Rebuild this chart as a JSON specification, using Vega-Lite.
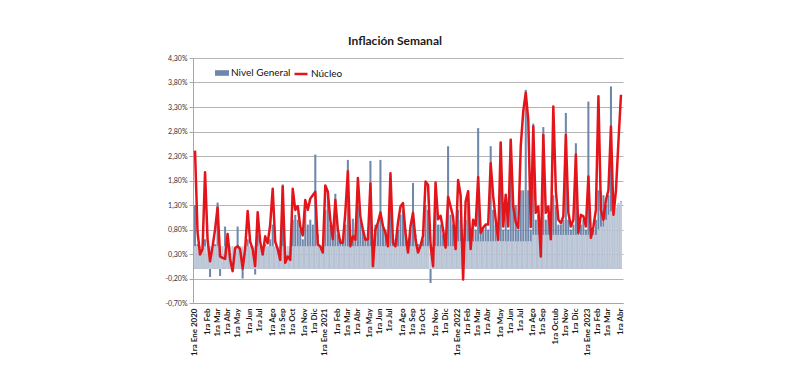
{
"$schema": "https://vega.github.io/schema/vega-lite/v6.json",
"width": 430, "height": 245,
"autosize": {"type": "none"},
"padding": {"left": 193, "top": 58, "right": 177, "bottom": 72},
"background": "white",
"config": {"font": "Lato", "view": {"stroke": null}},
"title": {"text": "Inflación Semanal", "font": "Lato", "fontSize": 12, "fontWeight": "bold", "color": "#1a1a1a", "offset": 6, "dx": -13},
"data": {"values": [
{"w":"1ra Ene 2020","g":1.30,"n":2.41,"b":0.46},
{"w":"2da Ene 2020","g":0.50,"n":0.75,"b":0.46},
{"w":"3ra Ene 2020","g":0.30,"n":0.29,"b":0.46},
{"w":"4ta Ene 2020","g":0.35,"n":0.40,"b":0.46},
{"w":"5ta Ene 2020","g":0.60,"n":1.97,"b":0.46},
{"w":"1ra Feb 2020","g":0.30,"n":0.60,"b":0.46},
{"w":"2da Feb 2020","g":-0.17,"n":0.15,"b":0.46},
{"w":"3ra Feb 2020","g":0.40,"n":0.45,"b":0.46},
{"w":"4ta Feb 2020","g":0.50,"n":0.80,"b":0.46},
{"w":"1ra Mar 2020","g":1.35,"n":1.25,"b":0.46},
{"w":"2da Mar 2020","g":-0.15,"n":0.25,"b":0.46},
{"w":"3ra Mar 2020","g":0.30,"n":0.22,"b":0.46},
{"w":"4ta Mar 2020","g":0.86,"n":0.20,"b":0.46},
{"w":"1ra Abr 2020","g":0.50,"n":0.71,"b":0.46},
{"w":"2da Abr 2020","g":0.30,"n":0.20,"b":0.46},
{"w":"3ra Abr 2020","g":0.10,"n":-0.05,"b":0.46},
{"w":"4ta Abr 2020","g":0.40,"n":0.42,"b":0.46},
{"w":"1ra May 2020","g":0.86,"n":0.46,"b":0.46},
{"w":"2da May 2020","g":0.40,"n":0.40,"b":0.46},
{"w":"3ra May 2020","g":-0.20,"n":0.00,"b":0.46},
{"w":"4ta May 2020","g":0.30,"n":0.40,"b":0.46},
{"w":"5ta May 2020","g":0.60,"n":1.18,"b":0.46},
{"w":"1ra Jun 2020","g":0.45,"n":0.55,"b":0.46},
{"w":"2da Jun 2020","g":0.35,"n":0.40,"b":0.46},
{"w":"3ra Jun 2020","g":-0.12,"n":0.05,"b":0.46},
{"w":"4ta Jun 2020","g":0.70,"n":1.15,"b":0.46},
{"w":"1ra Jul 2020","g":0.45,"n":0.55,"b":0.46},
{"w":"2da Jul 2020","g":0.30,"n":0.29,"b":0.46},
{"w":"3ra Jul 2020","g":0.50,"n":0.66,"b":0.46},
{"w":"4ta Jul 2020","g":0.45,"n":0.52,"b":0.46},
{"w":"5ta Jul 2020","g":0.60,"n":0.90,"b":0.46},
{"w":"1ra Ago 2020","g":0.90,"n":1.63,"b":0.46},
{"w":"2da Ago 2020","g":0.45,"n":0.55,"b":0.46},
{"w":"3ra Ago 2020","g":0.40,"n":0.40,"b":0.46},
{"w":"4ta Ago 2020","g":0.30,"n":0.18,"b":0.46},
{"w":"1ra Sep 2020","g":1.72,"n":1.68,"b":0.46},
{"w":"2da Sep 2020","g":0.30,"n":0.12,"b":0.46},
{"w":"3ra Sep 2020","g":0.35,"n":0.25,"b":0.46},
{"w":"4ta Sep 2020","g":0.40,"n":0.18,"b":0.46},
{"w":"1ra Oct 2020","g":1.00,"n":1.63,"b":0.46},
{"w":"2da Oct 2020","g":1.10,"n":1.20,"b":0.46},
{"w":"3ra Oct 2020","g":1.00,"n":1.28,"b":0.46},
{"w":"4ta Oct 2020","g":0.80,"n":0.86,"b":0.46},
{"w":"5ta Oct 2020","g":0.60,"n":0.68,"b":0.46},
{"w":"1ra Nov 2020","g":1.20,"n":1.40,"b":0.46},
{"w":"2da Nov 2020","g":0.90,"n":1.20,"b":0.46},
{"w":"3ra Nov 2020","g":1.00,"n":1.43,"b":0.46},
{"w":"4ta Nov 2020","g":0.90,"n":1.50,"b":0.46},
{"w":"1ra Dic 2020","g":2.33,"n":1.57,"b":0.46},
{"w":"2da Dic 2020","g":0.70,"n":0.50,"b":0.46},
{"w":"3ra Dic 2020","g":0.40,"n":0.45,"b":0.46},
{"w":"4ta Dic 2020","g":0.50,"n":0.33,"b":0.46},
{"w":"1ra Ene 2021","g":1.20,"n":1.70,"b":0.46},
{"w":"2da Ene 2021","g":1.51,"n":1.57,"b":0.46},
{"w":"3ra Ene 2021","g":0.90,"n":0.99,"b":0.46},
{"w":"4ta Ene 2021","g":0.70,"n":0.60,"b":0.46},
{"w":"5ta Ene 2021","g":1.53,"n":1.40,"b":0.46},
{"w":"1ra Feb 2021","g":0.70,"n":0.80,"b":0.46},
{"w":"2da Feb 2021","g":0.60,"n":0.53,"b":0.46},
{"w":"3ra Feb 2021","g":0.60,"n":0.53,"b":0.46},
{"w":"4ta Feb 2021","g":0.90,"n":1.16,"b":0.46},
{"w":"1ra Mar 2021","g":2.22,"n":1.99,"b":0.46},
{"w":"2da Mar 2021","g":0.60,"n":0.46,"b":0.46},
{"w":"3ra Mar 2021","g":1.02,"n":0.66,"b":0.46},
{"w":"4ta Mar 2021","g":0.70,"n":0.59,"b":0.46},
{"w":"1ra Abr 2021","g":1.30,"n":1.85,"b":0.46},
{"w":"2da Abr 2021","g":1.00,"n":1.05,"b":0.46},
{"w":"3ra Abr 2021","g":0.80,"n":0.80,"b":0.46},
{"w":"4ta Abr 2021","g":0.60,"n":0.59,"b":0.46},
{"w":"5ta Abr 2021","g":0.70,"n":0.60,"b":0.46},
{"w":"1ra May 2021","g":2.20,"n":1.74,"b":0.46},
{"w":"2da May 2021","g":0.40,"n":0.05,"b":0.46},
{"w":"3ra May 2021","g":0.90,"n":0.80,"b":0.46},
{"w":"4ta May 2021","g":0.90,"n":0.94,"b":0.46},
{"w":"1ra Jun 2021","g":2.22,"n":1.15,"b":0.46},
{"w":"2da Jun 2021","g":0.90,"n":0.87,"b":0.46},
{"w":"3ra Jun 2021","g":0.80,"n":0.73,"b":0.46},
{"w":"4ta Jun 2021","g":0.50,"n":0.46,"b":0.46},
{"w":"1ra Jul 2021","g":1.40,"n":1.95,"b":0.46},
{"w":"2da Jul 2021","g":0.70,"n":0.53,"b":0.46},
{"w":"3ra Jul 2021","g":0.60,"n":0.46,"b":0.46},
{"w":"4ta Jul 2021","g":0.80,"n":0.94,"b":0.46},
{"w":"5ta Jul 2021","g":1.10,"n":1.27,"b":0.46},
{"w":"1ra Ago 2021","g":1.20,"n":1.34,"b":0.46},
{"w":"2da Ago 2021","g":0.80,"n":0.73,"b":0.46},
{"w":"3ra Ago 2021","g":0.50,"n":0.33,"b":0.46},
{"w":"4ta Ago 2021","g":0.80,"n":0.86,"b":0.46},
{"w":"1ra Sep 2021","g":1.75,"n":1.14,"b":0.46},
{"w":"2da Sep 2021","g":0.70,"n":0.60,"b":0.46},
{"w":"3ra Sep 2021","g":0.50,"n":0.33,"b":0.46},
{"w":"4ta Sep 2021","g":0.50,"n":0.47,"b":0.46},
{"w":"1ra Oct 2021","g":0.60,"n":0.67,"b":0.46},
{"w":"2da Oct 2021","g":1.30,"n":1.78,"b":0.46},
{"w":"3ra Oct 2021","g":1.20,"n":1.71,"b":0.46},
{"w":"4ta Oct 2021","g":-0.29,"n":0.50,"b":0.46},
{"w":"5ta Oct 2021","g":0.40,"n":0.05,"b":0.46},
{"w":"1ra Nov 2021","g":1.20,"n":1.76,"b":0.46},
{"w":"2da Nov 2021","g":0.90,"n":1.01,"b":0.46},
{"w":"3ra Nov 2021","g":0.90,"n":1.08,"b":0.46},
{"w":"4ta Nov 2021","g":0.70,"n":0.80,"b":0.46},
{"w":"1ra Dic 2021","g":0.50,"n":0.43,"b":0.46},
{"w":"2da Dic 2021","g":2.50,"n":1.47,"b":0.46},
{"w":"3ra Dic 2021","g":1.10,"n":1.27,"b":0.46},
{"w":"4ta Dic 2021","g":0.90,"n":1.06,"b":0.46},
{"w":"5ta Dic 2021","g":0.50,"n":0.40,"b":0.46},
{"w":"1ra Ene 2022","g":1.20,"n":1.81,"b":0.56},
{"w":"2da Ene 2022","g":1.00,"n":1.50,"b":0.56},
{"w":"3ra Ene 2022","g":0.30,"n":-0.22,"b":0.56},
{"w":"4ta Ene 2022","g":1.00,"n":1.37,"b":0.56},
{"w":"1ra Feb 2022","g":1.60,"n":1.58,"b":0.56},
{"w":"2da Feb 2022","g":0.60,"n":0.40,"b":0.56},
{"w":"3ra Feb 2022","g":0.90,"n":1.00,"b":0.56},
{"w":"4ta Feb 2022","g":0.80,"n":0.88,"b":0.56},
{"w":"1ra Mar 2022","g":2.87,"n":1.87,"b":0.56},
{"w":"2da Mar 2022","g":0.80,"n":0.73,"b":0.56},
{"w":"3ra Mar 2022","g":0.80,"n":0.84,"b":0.56},
{"w":"4ta Mar 2022","g":0.90,"n":0.90,"b":0.56},
{"w":"1ra Abr 2022","g":0.80,"n":0.90,"b":0.56},
{"w":"2da Abr 2022","g":2.50,"n":2.15,"b":0.56},
{"w":"3ra Abr 2022","g":1.20,"n":1.48,"b":0.56},
{"w":"4ta Abr 2022","g":0.90,"n":1.00,"b":0.56},
{"w":"5ta Abr 2022","g":0.60,"n":0.59,"b":0.56},
{"w":"1ra May 2022","g":2.60,"n":2.57,"b":0.56},
{"w":"2da May 2022","g":0.80,"n":0.86,"b":0.56},
{"w":"3ra May 2022","g":1.30,"n":1.51,"b":0.56},
{"w":"4ta May 2022","g":0.80,"n":0.86,"b":0.56},
{"w":"1ra Jun 2022","g":2.65,"n":2.63,"b":0.56},
{"w":"2da Jun 2022","g":1.30,"n":1.27,"b":0.56},
{"w":"3ra Jun 2022","g":1.30,"n":0.95,"b":0.56},
{"w":"4ta Jun 2022","g":0.80,"n":0.83,"b":0.56},
{"w":"1ra Jul 2022","g":1.60,"n":2.50,"b":0.56},
{"w":"2da Jul 2022","g":1.60,"n":3.21,"b":0.56},
{"w":"3ra Jul 2022","g":3.65,"n":3.59,"b":0.56},
{"w":"4ta Jul 2022","g":1.60,"n":3.04,"b":0.56},
{"w":"5ta Jul 2022","g":0.80,"n":0.85,"b":0.56},
{"w":"1ra Ago 2022","g":2.96,"n":2.90,"b":0.69},
{"w":"2da Ago 2022","g":1.00,"n":1.14,"b":0.69},
{"w":"3ra Ago 2022","g":1.10,"n":1.27,"b":0.69},
{"w":"4ta Ago 2022","g":0.70,"n":0.25,"b":0.69},
{"w":"1ra Sep 2022","g":2.89,"n":2.73,"b":0.69},
{"w":"2da Sep 2022","g":1.00,"n":1.14,"b":0.69},
{"w":"3ra Sep 2022","g":1.10,"n":1.27,"b":0.69},
{"w":"4ta Sep 2022","g":0.70,"n":0.60,"b":0.69},
{"w":"5ta Sep 2022","g":1.50,"n":3.31,"b":0.69},
{"w":"1ra Octub 2022","g":1.30,"n":1.60,"b":0.69},
{"w":"2da Octub 2022","g":0.90,"n":1.00,"b":0.69},
{"w":"3ra Octub 2022","g":0.90,"n":0.93,"b":0.69},
{"w":"4ta Octub 2022","g":1.00,"n":1.07,"b":0.69},
{"w":"1ra Nov 2022","g":3.18,"n":2.73,"b":0.69},
{"w":"2da Nov 2022","g":1.00,"n":1.14,"b":0.69},
{"w":"3ra Nov 2022","g":0.80,"n":0.86,"b":0.69},
{"w":"4ta Nov 2022","g":0.90,"n":1.00,"b":0.69},
{"w":"1ra Dic 2022","g":2.56,"n":2.33,"b":0.69},
{"w":"2da Dic 2022","g":0.80,"n":0.73,"b":0.69},
{"w":"3ra Dic 2022","g":0.90,"n":1.10,"b":0.69},
{"w":"4ta Dic 2022","g":1.00,"n":1.07,"b":0.69},
{"w":"5ta Dic 2022","g":0.80,"n":0.86,"b":0.69},
{"w":"1ra Ene 2023","g":3.41,"n":1.88,"b":0.69},
{"w":"2da Ene 2023","g":0.70,"n":0.63,"b":0.69},
{"w":"3ra Ene 2023","g":0.80,"n":0.86,"b":0.69},
{"w":"4ta Ene 2023","g":1.00,"n":1.20,"b":0.69},
{"w":"1ra Feb 2023","g":1.60,"n":3.52,"b":0.80},
{"w":"2da Feb 2023","g":1.58,"n":1.20,"b":0.86},
{"w":"3ra Feb 2023","g":1.50,"n":1.00,"b":0.86},
{"w":"4ta Feb 2023","g":1.30,"n":1.40,"b":1.00},
{"w":"1ra Mar 2023","g":1.50,"n":1.60,"b":1.10},
{"w":"2da Mar 2023","g":3.72,"n":2.90,"b":1.17},
{"w":"3ra Mar 2023","g":1.17,"n":1.10,"b":1.17},
{"w":"4ta Mar 2023","g":1.20,"n":1.60,"b":1.25},
{"w":"5ta Mar 2023","g":1.30,"n":2.60,"b":1.34},
{"w":"1ra Abr 2023","g":1.38,"n":3.55,"b":1.37}
]},
"encoding": {
  "x": {"field": "w", "type": "nominal", "sort": null,
    "scale": {"paddingInner": 0.18, "paddingOuter": 0.4},
    "axis": {"title": null, "labelAngle": -90, "labelOverlap": false, "ticks": false, "grid": false,
      "domain": true, "domainColor": "#a6a6a6",
      "labelExpr": "slice(datum.value,0,3)=='1ra' ? (indexof(datum.value,' Ene ')>0 ? datum.value : slice(datum.value,0,length(datum.value)-5)) : ''",
      "labelFont": "Lato", "labelFontSize": 8, "labelFontWeight": "bold", "labelColor": "#1a1a1a", "labelPadding": 5}}
},
"layer": [
  {"mark": {"type": "bar"},
   "encoding": {
     "y": {"field": "g", "type": "quantitative",
       "scale": {"domain": [-0.7, 4.3], "nice": false, "zero": false},
       "axis": {"title": null, "values": [-0.7,-0.2,0.3,0.8,1.3,1.8,2.3,2.8,3.3,3.8,4.3], "tickCount": 11,
         "labelOverlap": false, "labelBound": false,
         "labelExpr": "replace(replace(format(datum.value,'.2f'),'.',','),'−','-') + '%'",
         "grid": true, "gridColor": "#b4b4b4", "domainColor": "#a6a6a6", "tickColor": "#a6a6a6", "tickSize": 4,
         "labelFont": "Lato", "labelFontSize": 7, "labelColor": "#333333", "labelPadding": 2}},
     "fill": {"datum": "Nivel General", "scale": {"range": ["#6f87ab"]},
       "legend": {"title": null, "orient": "none", "legendX": 22, "legendY": 8, "symbolType": "M-1,-0.4H1V0.4H-1Z", "symbolSize": 196, "symbolStrokeWidth": 0,
         "labelFont": "Lato", "labelFontSize": 10, "labelColor": "#111111", "labelOffset": 2}}
   }},
  {"mark": {"type": "bar", "color": "#c2cbd9"},
   "encoding": {"y": {"field": "b", "type": "quantitative"}}},
  {"mark": {"type": "line", "strokeWidth": 2.5, "strokeJoin": "round"},
   "encoding": {
     "y": {"field": "n", "type": "quantitative"},
     "stroke": {"datum": "Núcleo", "scale": {"range": ["#e3151b"]},
       "legend": {"title": null, "orient": "none", "legendX": 100, "legendY": 8, "symbolType": "stroke", "symbolSize": 169, "symbolStrokeWidth": 2.5,
         "labelFont": "Lato", "labelFontSize": 10, "labelColor": "#111111", "labelOffset": 2}}
   }}
]
}
